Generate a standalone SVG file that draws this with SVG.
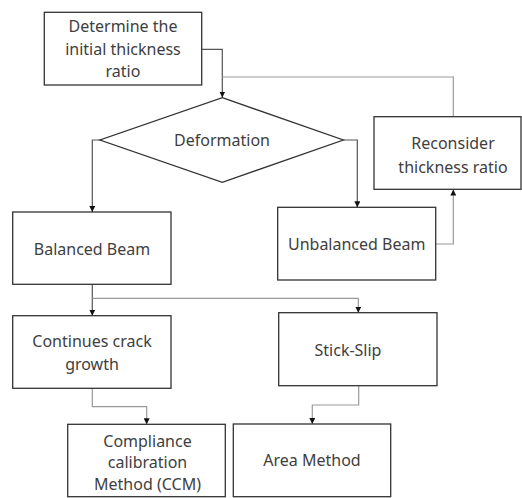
<svg xmlns="http://www.w3.org/2000/svg" width="522" height="498" viewBox="0 0 522 498">
<style>
.box{fill:#fff;stroke:#333;stroke-width:1.3}
.t{font-family:"Noto Sans","Open Sans",sans-serif;font-size:16px;fill:#404040;text-anchor:middle}
.c{fill:none;stroke:#9a9a9a;stroke-width:1.2}
.cd{fill:none;stroke:#555;stroke-width:1.2}
</style>
<defs>
<marker id="ah" viewBox="0 0 10 10" refX="10" refY="5" markerWidth="6" markerHeight="6" markerUnits="userSpaceOnUse" orient="auto">
<path d="M0,0 L10,5 L0,10 Z" fill="#111"/>
</marker>
</defs>
<rect width="522" height="498" fill="#fff"/>
<g id="connectors">
<path class="cd" d="M202,49.3 H222.3 V97.5" marker-end="url(#ah)"/>
<path class="c" d="M222.3,77 H453.3 V116.7"/>
<path class="cd" d="M100,140 H92.3 V212" marker-end="url(#ah)"/>
<path class="cd" d="M343.3,140 H357.3 V207.3" marker-end="url(#ah)"/>
<path class="c" d="M435.7,244 H453.3 V189.5" marker-end="url(#ah)"/>
<path class="cd" d="M92.3,284.3 V315.7" marker-end="url(#ah)"/>
<path class="c" d="M92.3,298.3 H358.3 V312.7" marker-end="url(#ah)"/>
<path class="c" d="M92.3,388.3 V406.7 H146.7 V424.3" marker-end="url(#ah)"/>
<path class="c" d="M358.7,385.7 V405 H312.3 V424" marker-end="url(#ah)"/>
</g>
<g id="n-determine">
<rect class="box" x="44.3" y="12.3" width="157.4" height="72.7"/>
<text class="t" x="123" y="32.4">Determine the</text>
<text class="t" x="123" y="55">initial thickness</text>
<text class="t" x="123" y="77.4">ratio</text>
</g>
<g id="n-deformation">
<polygon class="box" points="222.3,97.7 343.3,140 222.3,182.3 100,140"/>
<text class="t" x="222" y="145.7">Deformation</text>
</g>
<g id="n-reconsider">
<rect class="box" x="374" y="116.7" width="147" height="72.6"/>
<text class="t" x="453" y="148.7">Reconsider</text>
<text class="t" x="453" y="172.7">thickness ratio</text>
</g>
<g id="n-balanced">
<rect class="box" x="12.7" y="212" width="158.3" height="72.3"/>
<text class="t" x="92" y="254.7">Balanced Beam</text>
</g>
<g id="n-unbalanced">
<rect class="box" x="277.7" y="207.3" width="158" height="72.7"/>
<text class="t" x="356.7" y="250">Unbalanced Beam</text>
</g>
<g id="n-continues">
<rect class="box" x="12.7" y="315.7" width="158.3" height="72.6"/>
<text class="t" x="92" y="347.4">Continues crack</text>
<text class="t" x="92" y="370">growth</text>
</g>
<g id="n-stickslip">
<rect class="box" x="278.7" y="312.7" width="158.3" height="73"/>
<text class="t" x="348" y="355.7">Stick-Slip</text>
</g>
<g id="n-ccm">
<rect class="box" x="67.7" y="424.3" width="157.6" height="72.4"/>
<text class="t" x="147.5" y="447.4">Compliance</text>
<text class="t" x="147.5" y="468.4">calibration</text>
<text class="t" x="147.5" y="489.7">Method (CCM)</text>
</g>
<g id="n-area">
<rect class="box" x="233.3" y="424" width="157.4" height="72.7"/>
<text class="t" x="312" y="466.4">Area Method</text>
</g>
</svg>
